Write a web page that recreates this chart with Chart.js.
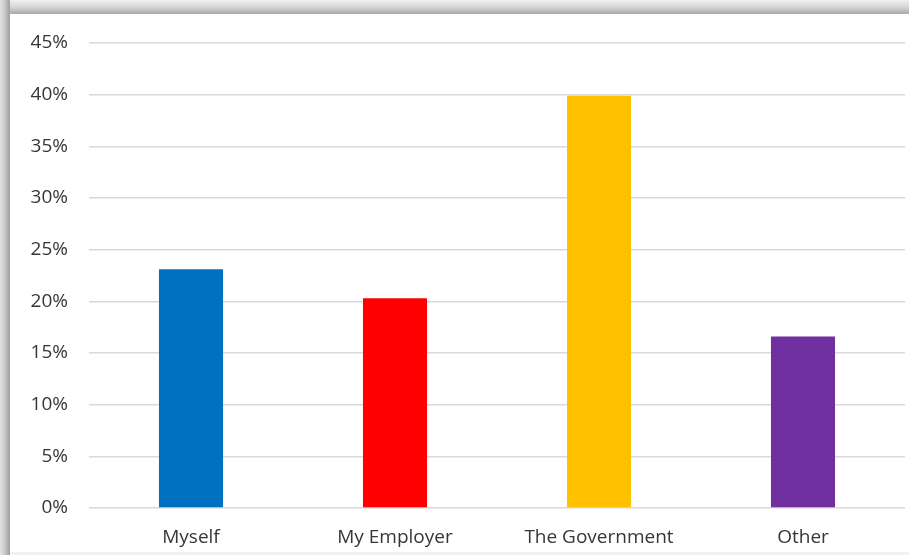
<!DOCTYPE html>
<html>
<head>
<meta charset="utf-8">
<script src="https://cdn.jsdelivr.net/npm/chart.js@4.4.1/dist/chart.umd.min.js"></script>
<style>
  html, body { margin: 0; padding: 0; background: #fff; }
  #frame { position: relative; width: 909px; height: 555px; overflow: hidden; background: #fff; }
  /* sombra del recuadro */
  #top-edge { position: absolute; left: 0; top: 0; width: 909px; height: 14px;
    background: linear-gradient(to bottom, #f0f0f0 0%, #d6d6d6 50%, #a9a9a9 100%); }
  #left-edge { position: absolute; left: 0; top: 0; width: 10px; height: 555px;
    background: linear-gradient(to right, #e4e4e4 0%, #c8c8c8 50%, #9c9c9c 100%); }
  #bottom-edge { position: absolute; left: 10px; top: 552px; width: 899px; height: 3px; background: #f2f2f2; }
  #chart { position: absolute; left: 0; top: 0; }
</style>
</head>
<body>
<div id="frame">
  <div id="top-edge"></div>
  <div id="left-edge"></div>
  <div id="bottom-edge"></div>
  <canvas id="chart" width="909" height="555"></canvas>
</div>
<script>
const categories = ['Myself', 'My Employer', 'The Government', 'Other'];
const shares = [0.231, 0.203, 0.399, 0.166];
const barColors = ['#0070C0', '#FF0000', '#FFC000', '#7030A0'];
const yTicks = [0, 0.05, 0.10, 0.15, 0.20, 0.25, 0.30, 0.35, 0.40, 0.45];

const labelFont = { family: 'Open Sans', size: 19 };

new Chart(document.getElementById('chart').getContext('2d'), {
  type: 'bar',
  data: {
    labels: categories,
    datasets: [{
      data: shares,
      backgroundColor: barColors,
      borderWidth: 0,
      barPercentage: 1,
      categoryPercentage: 0.314
    }]
  },
  options: {
    responsive: false,
    animation: false,
    layout: { padding: { top: 43, right: 4, bottom: 0, left: 0 } },
    plugins: { legend: { display: false }, tooltip: { enabled: false } },
    scales: {
      x: {
        grid: { display: false },
        border: { display: false },
        ticks: { color: '#363636', font: labelFont, padding: 10 },
        afterFit: (s) => { s.height = 47; }
      },
      y: {
        min: 0,
        max: 0.45,
        afterBuildTicks: (s) => { s.ticks = yTicks.map(v => ({ value: v })); },
        grid: { color: '#d9d9d9', lineWidth: 1.5, drawTicks: false },
        border: { display: false },
        ticks: {
          color: '#363636',
          font: labelFont,
          padding: 21,
          callback: (v) => Math.round(v * 100) + '%'
        },
        afterFit: (s) => { s.width = 89; }
      }
    }
  }
});
</script>
</body>
</html>
